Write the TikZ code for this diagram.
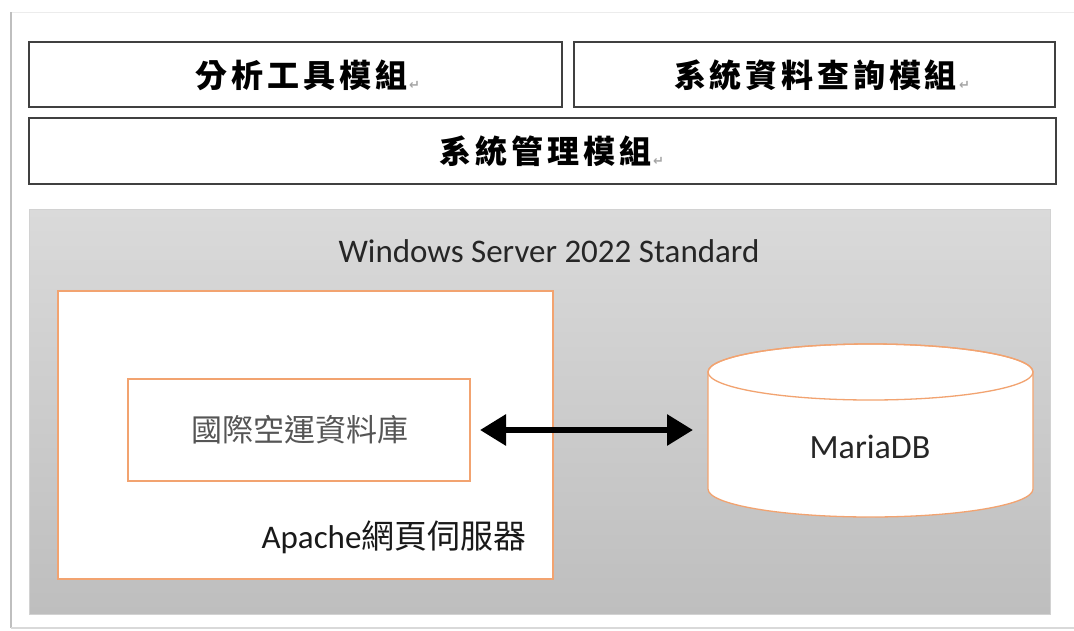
\documentclass[tikz,border=0pt]{standalone}
\usepackage{fontspec}
\setmainfont{Carlito}
\newfontfamily\cjk{Noto Sans CJK TC}
\newfontfamily\cjkb[LetterSpace=12]{Noto Sans CJK TC}
\newfontfamily\dejavu{DejaVu Sans}
\usetikzlibrary{arrows.meta}
\definecolor{boxline}{HTML}{404040}
\definecolor{orangeline}{HTML}{F2A370}
\definecolor{paneltop}{HTML}{DADADA}
\definecolor{panelbot}{HTML}{BEBEBE}
\definecolor{softtext}{HTML}{555555}
\newcommand{\pmark}{{\dejavu\fontsize{13}{13}\selectfont\color{gray!70}\hspace{2pt}\raisebox{-2pt}{↵}}}
\tikzset{
  topbox/.style={draw=boxline, line width=1.5pt, fill=white, anchor=north west,
    inner sep=0pt, outer sep=0pt},
  toplabel/.style={inner sep=0pt, outer sep=0pt, font=\cjkb\bfseries\fontsize{32}{32}\selectfont},
  orangebox/.style={draw=orangeline, line width=1.3pt, fill=white, anchor=north west,
    inner sep=0pt, outer sep=0pt},
  panel/.style={draw=gray!35, line width=0.8pt, top color=paneltop, bottom color=panelbot,
    anchor=north west, inner sep=0pt, outer sep=0pt},
  plain/.style={inner sep=0pt, outer sep=0pt},
  bigarrow/.style={line width=6pt, {Triangle[length=26pt,width=30pt]}-{Triangle[length=26pt,width=30pt]}},
}
\begin{document}
\begin{tikzpicture}[x=1pt, y=-1pt]
\useasboundingbox (0,0) rectangle (1074,630);
% outer frame
\draw[gray!15, line width=1pt] (11,12) -- (1074,12);
\draw[gray!50, line width=2.5pt] (11,12) -- (11,628);
\draw[gray!30, line width=1.5pt] (11,628) -- (1074,628);
% top module boxes
\node[topbox, minimum width=533pt, minimum height=65pt] (m1) at (29,42) {};
\node[toplabel] (t1) at (308,75) {分析工具模組\pmark};
\node[topbox, minimum width=481pt, minimum height=65pt] (m2) at (574,42) {};
\node[toplabel] (t2) at (822,75) {系統資料查詢模組\pmark};
\node[topbox, minimum width=1027pt, minimum height=66pt] (m3) at (29,118) {};
\node[toplabel] (t3) at (552,151) {系統管理模組\pmark};
% Windows server panel
\node[panel, minimum width=1021pt, minimum height=405pt] (win) at (29,209) {};
\node[plain, font=\fontsize{33}{33}\selectfont, text=black!85] (wlab) at (549,251) {Windows Server 2022 Standard};
% Apache box
\node[orangebox, minimum width=495pt, minimum height=288pt] (apache) at (58,291) {};
\node[plain, font=\fontsize{33}{33}\selectfont, text=black!90] (alab) at (394,537) {Apache{\cjk 網頁伺服器}};
% inner database box
\node[orangebox, minimum width=342pt, minimum height=102pt] (idb) at (128,379) {};
\node[plain, font=\cjk\fontsize{31}{31}\selectfont, text=softtext] (ilab) at (300,430) {國際空運資料庫};
% MariaDB cylinder
\filldraw[fill=white, draw=orangeline, line width=1.3pt]
  (708,372) -- (708,489) arc[start angle=180, end angle=360, x radius=162.5pt, y radius=28pt]
  -- (1033,372) arc[start angle=0, end angle=180, x radius=162.5pt, y radius=28pt] -- cycle;
\draw[draw=orangeline, line width=1.3pt] (870.5,372) ellipse [x radius=162.5pt, y radius=28pt];
\node[plain, minimum width=325pt, minimum height=174pt, anchor=north west] (db) at (708,343) {};
\node[plain, font=\fontsize{34}{34}\selectfont, text=black!85] (dblab) at (870,447) {MariaDB};
% connector
\draw[bigarrow, shorten <=10pt, shorten >=15pt] (idb.east) -- (db.west);
\end{tikzpicture}
\end{document}
